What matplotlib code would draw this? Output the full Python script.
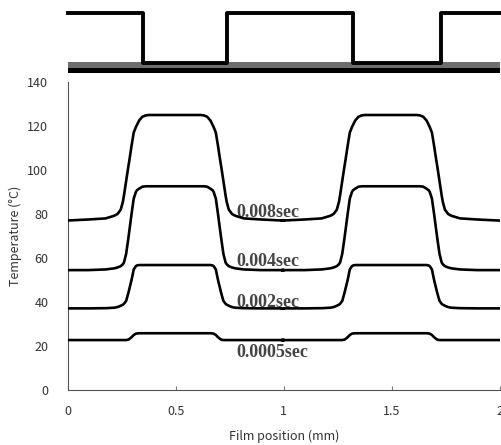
"""
Film temperature profiles under a periodic mask, for several exposure times.
"""

import matplotlib
matplotlib.use('Agg')
import matplotlib.pyplot as plt
import numpy as np

# Top panel: mask pattern (1 = open, 0 = blocked)
WAVE_X = [0.0, 0.349, 0.735, 1.32, 1.729, 2.01]
WAVE_LEVEL = [1, 0, 1, 0, 1, 1]

# Temperature profile of one peak, read as distance from the peak centre (mm)
PEAK_CENTRES = [0.495, 1.495]
DIST = [0.0, 0.12, 0.135, 0.15, 0.165, 0.175, 0.18, 0.19, 0.20, 0.21,
        0.215, 0.225, 0.235, 0.24, 0.25, 0.265, 0.28, 0.32, 0.40, 0.505]

TEMP_0008 = [125.0, 125.0, 124.8, 124.2, 122.5, 120.5, 119.5, 117.0, 111.0, 104.5,
             101.5, 95.0, 88.5, 85.6, 82.0, 80.0, 79.2, 78.0, 77.5, 77.0]
TEMP_0004 = [92.6, 92.6, 92.6, 92.4, 91.5, 90.8, 90.0, 87.0, 80.0, 72.5,
             68.8, 61.9, 58.0, 57.2, 56.3, 55.7, 55.3, 54.8, 54.5, 54.5]
TEMP_0002 = [56.8, 56.8, 56.8, 56.8, 56.8, 56.6, 56.3, 54.8, 50.0, 46.0,
             44.0, 40.5, 39.2, 38.8, 38.3, 37.7, 37.4, 37.2, 37.1, 37.1]
TEMP_00005 = [25.8, 25.8, 25.8, 25.8, 25.8, 25.7, 25.6, 25.0, 24.0, 23.2,
              22.9, 22.7, 22.7, 22.7, 22.7, 22.7, 22.7, 22.7, 22.7, 22.7]

SERIES = [TEMP_0008, TEMP_0004, TEMP_0002, TEMP_00005]
LABELS = ['0.008sec', '0.004sec', '0.002sec', '0.0005sec']
LABEL_Y = [80.7, 58.6, 39.8, 17.0]
LABEL_X = 0.781

X_TICKS = [0, 0.5, 1, 1.5, 2]
X_TICK_LABELS = ['0', '0.5', '1', '1.5', '2']
Y_TICKS = [0, 20, 40, 60, 80, 100, 120, 140]

TEXT_GREY = '#333333'

plt.rcParams['font.family'] = ['Noto Sans CJK JP', 'DejaVu Sans']


def build_curve(temps):
    d = np.array(DIST)
    t = np.array(temps)
    xs, ys = [], []
    for c in PEAK_CENTRES:
        xs.extend(list(c - d[::-1]) + list(c + d[1:]))
        ys.extend(list(t[::-1]) + list(t[1:]))
    return xs, ys


def main() -> None:
    fig = plt.figure(figsize=(5.02, 4.45), dpi=100)
    W, H = 502, 445

    # main axes: x=0 at px 67.8, x=2 at px 500, y=0 at px 390, y=140 at px 82
    ax = fig.add_axes([67.8 / W, (H - 390) / H, (500 - 67.8) / W, (390 - 82) / H])
    top = fig.add_axes([67.8 / W, (H - 75) / H, (500 - 67.8) / W, (75 - 8) / H])

    for temps in SERIES:
        xs, ys = build_curve(temps)
        ax.plot(xs, ys, color='black', lw=1.9, zorder=3, solid_capstyle='butt')

    for label, y in zip(LABELS, LABEL_Y):
        ax.text(LABEL_X, y, label, family='Liberation Serif', weight='bold',
                fontsize=13, color='#444444', va='center', ha='left', zorder=2)

    ax.set_xlim(0, 2)
    ax.set_ylim(0, 140)
    ax.set_xticks(X_TICKS)
    ax.set_xticklabels(X_TICK_LABELS)
    ax.set_yticks(Y_TICKS)
    for side in ('top', 'right'):
        ax.spines[side].set_visible(False)
    for side in ('left', 'bottom'):
        ax.spines[side].set_color('#555555')
        ax.spines[side].set_linewidth(0.8)
    ax.tick_params(axis='x', direction='in', length=3, color='#777777',
                   labelsize=9, labelcolor=TEXT_GREY, pad=11)
    ax.tick_params(axis='y', length=0, labelsize=9, labelcolor=TEXT_GREY, pad=14)
    ax.set_xlabel('Film position (mm)', fontsize=9, color=TEXT_GREY)
    ax.set_ylabel('Temperature (°C)', fontsize=9, color=TEXT_GREY)
    ax.xaxis.set_label_coords(0.5, -0.128)
    ax.yaxis.set_label_coords(-0.106, 0.5)

    # top panel: mask pattern
    top.axhspan(-0.107, 0.02, color='#6e6e6e', lw=0)
    top.axhspan(-0.195, -0.107, color='black', lw=0)
    top.step(WAVE_X, WAVE_LEVEL, where='post', color='black', lw=2.8,
             clip_on=False)
    top.set_xlim(0, 2)
    top.set_ylim(-0.241, 1.107)
    top.axis('off')

    fig.savefig('out.png', dpi=100)


if __name__ == '__main__':
    main()
